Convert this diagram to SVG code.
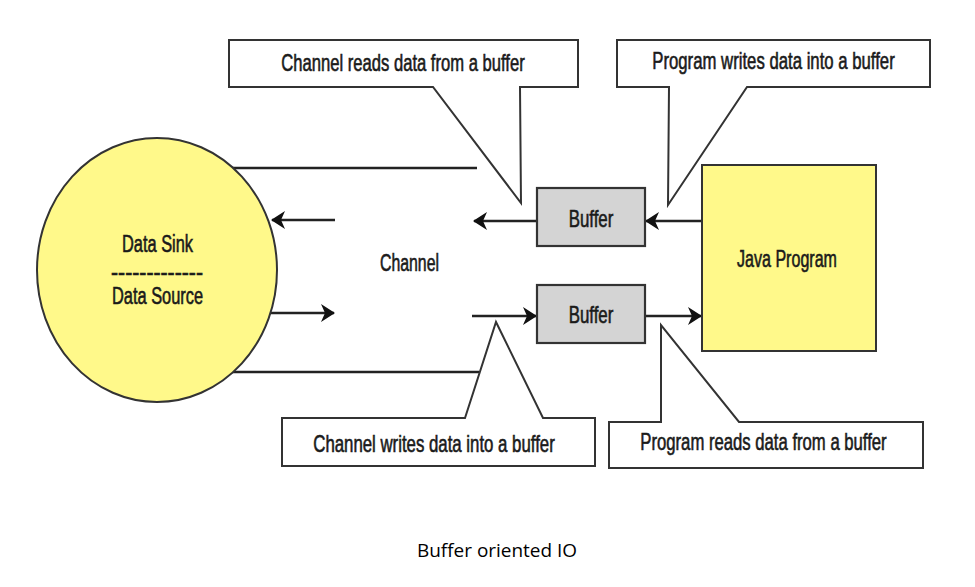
<svg xmlns="http://www.w3.org/2000/svg" width="975" height="587" viewBox="0 0 975 587">
<defs>
<style>
.bg{fill:#ffffff}
.ln{stroke:#222;stroke-width:2.5;fill:none}
.arr{stroke:#222;stroke-width:2.5;fill:none;marker-end:url(#ah)}
.call{fill:#ffffff;stroke:#333;stroke-width:2;stroke-linejoin:miter}
.yel{fill:#fff98a;stroke:#333;stroke-width:2}
.buf{fill:#d4d4d4;stroke:#333;stroke-width:2.2}
.t{font-family:"Liberation Sans",Arial,sans-serif;font-size:23px;fill:#1a1a1a;stroke:#1a1a1a;stroke-width:0.6;text-anchor:middle}
.cap{font-family:"Open Sans","Liberation Sans",sans-serif;font-size:18px;fill:#000;text-anchor:middle}
</style>
<marker id="ah" viewBox="0 0 14 18" refX="13" refY="9" markerWidth="14" markerHeight="18" markerUnits="userSpaceOnUse" orient="auto">
<path d="M0,0 L14,9 L0,18 L4,9 Z" fill="#111"/>
</marker>
</defs>
<rect class="bg" x="0" y="0" width="975" height="587"/>

<g id="connectors">
<line class="ln" x1="200" y1="168" x2="477" y2="168"/>
<line class="ln" x1="200" y1="372" x2="479" y2="372"/>
<line class="arr" x1="335" y1="220" x2="272" y2="220"/>
<line class="arr" x1="270" y1="313" x2="334" y2="313"/>
<line class="arr" x1="537" y1="221" x2="474" y2="221"/>
<line class="arr" x1="702" y1="221" x2="646" y2="221"/>
<line class="arr" x1="472" y1="316" x2="536" y2="316"/>
<line class="arr" x1="645" y1="316" x2="701" y2="316"/>
</g>

<g id="data-sink-source">
<ellipse class="yel" cx="157" cy="270" rx="120" ry="132"/>
<text class="t" transform="translate(157.5,252) scale(0.712,1)" x="0" y="0">Data Sink</text>
<text class="t" transform="translate(157,280) scale(0.924,1)" x="0" y="0">-------------</text>
<text class="t" transform="translate(157.5,304) scale(0.712,1)" x="0" y="0">Data Source</text>
</g>

<g id="channel">
<text class="t" transform="translate(409.5,271) scale(0.689,1)" x="0" y="0">Channel</text>
</g>

<g id="buffer-top">
<rect class="buf" x="537" y="188" width="108" height="58"/>
<text class="t" transform="translate(591,227) scale(0.733,1)" x="0" y="0">Buffer</text>
</g>

<g id="buffer-bottom">
<rect class="buf" x="537" y="285" width="108" height="58"/>
<text class="t" transform="translate(591,323) scale(0.733,1)" x="0" y="0">Buffer</text>
</g>

<g id="java-program">
<rect class="yel" x="702" y="165" width="174" height="186"/>
<text class="t" transform="translate(787,267) scale(0.698,1)" x="0" y="0">Java Program</text>
</g>

<g id="callout-channel-reads">
<path class="call" d="M229,40 H578 V87 H520 L521,203 L433,87 H229 Z"/>
<text class="t" transform="translate(403,71) scale(0.723,1)" x="0" y="0">Channel reads data from a buffer</text>
</g>

<g id="callout-program-writes">
<path class="call" d="M617,40 H930 V87 H747 L668,205 L669,87 H617 Z"/>
<text class="t" transform="translate(773.5,69) scale(0.728,1)" x="0" y="0">Program writes data into a buffer</text>
</g>

<g id="callout-channel-writes">
<path class="call" d="M282,418 H465 L496,322 L543,418 H595 V466 H282 Z"/>
<text class="t" transform="translate(434,452) scale(0.731,1)" x="0" y="0">Channel writes data into a buffer</text>
</g>

<g id="callout-program-reads">
<path class="call" d="M609,422 H661 V325 L739,422 H923 V468 H609 Z"/>
<text class="t" transform="translate(763.5,450) scale(0.726,1)" x="0" y="0">Program reads data from a buffer</text>
</g>

<g id="caption">
<text class="cap" x="497" y="557" textLength="160" lengthAdjust="spacingAndGlyphs">Buffer oriented IO</text>
</g>
</svg>
